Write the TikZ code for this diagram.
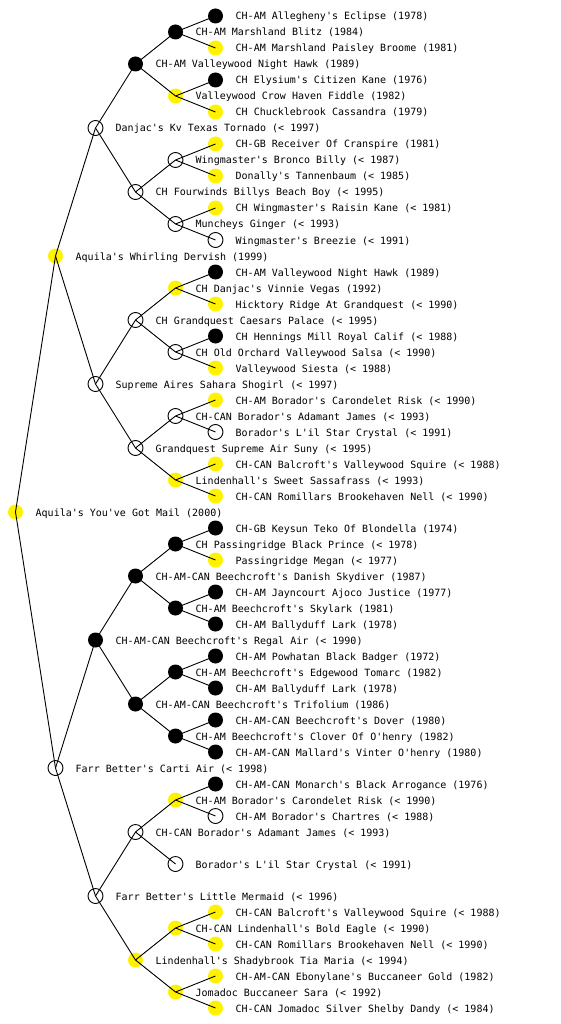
\documentclass[tikz,border=0pt]{standalone}
\usepackage{fontspec}
\setmonofont{DejaVu Sans Mono}
\begin{document}
\begin{tikzpicture}[x=1pt,y=-1pt,
  dot/.style={circle,inner sep=0pt,minimum size=15pt},
  blk/.style={dot,fill=black},
  yel/.style={dot,fill=yellow},
  wht/.style={dot,draw=black,fill=white,line width=0.9pt},
  lbl/.style={anchor=base west,inner sep=0pt,font=\ttfamily\fontsize{10}{12}\selectfont},
  edge/.style={draw=black,line width=0.9pt}]
\useasboundingbox (0,0) rectangle (560,1024);
% level x: 15.5 55.5 95.5 135.5 175.5 215.5 ; y = 16+16r
\node[blk] (n0) at (215.5,16) {};
\node[blk] (n1) at (175.5,32) {};
\node[yel] (n2) at (215.5,48) {};
\node[blk] (n3) at (135.5,64) {};
\node[blk] (n4) at (215.5,80) {};
\node[yel] (n5) at (175.5,96) {};
\node[yel] (n6) at (215.5,112) {};
\node[wht] (n7) at (95.5,128) {};
\node[yel] (n8) at (215.5,144) {};
\node[wht] (n9) at (175.5,160) {};
\node[yel] (n10) at (215.5,176) {};
\node[wht] (n11) at (135.5,192) {};
\node[yel] (n12) at (215.5,208) {};
\node[wht] (n13) at (175.5,224) {};
\node[wht] (n14) at (215.5,240) {};
\node[yel] (n15) at (55.5,256) {};
\node[blk] (n16) at (215.5,272) {};
\node[yel] (n17) at (175.5,288) {};
\node[yel] (n18) at (215.5,304) {};
\node[wht] (n19) at (135.5,320) {};
\node[blk] (n20) at (215.5,336) {};
\node[wht] (n21) at (175.5,352) {};
\node[yel] (n22) at (215.5,368) {};
\node[wht] (n23) at (95.5,384) {};
\node[yel] (n24) at (215.5,400) {};
\node[wht] (n25) at (175.5,416) {};
\node[wht] (n26) at (215.5,432) {};
\node[wht] (n27) at (135.5,448) {};
\node[yel] (n28) at (215.5,464) {};
\node[yel] (n29) at (175.5,480) {};
\node[yel] (n30) at (215.5,496) {};
\node[yel] (n31) at (15.5,512) {};
\node[blk] (n32) at (215.5,528) {};
\node[blk] (n33) at (175.5,544) {};
\node[yel] (n34) at (215.5,560) {};
\node[blk] (n35) at (135.5,576) {};
\node[blk] (n36) at (215.5,592) {};
\node[blk] (n37) at (175.5,608) {};
\node[blk] (n38) at (215.5,624) {};
\node[blk] (n39) at (95.5,640) {};
\node[blk] (n40) at (215.5,656) {};
\node[blk] (n41) at (175.5,672) {};
\node[blk] (n42) at (215.5,688) {};
\node[blk] (n43) at (135.5,704) {};
\node[blk] (n44) at (215.5,720) {};
\node[blk] (n45) at (175.5,736) {};
\node[blk] (n46) at (215.5,752) {};
\node[wht] (n47) at (55.5,768) {};
\node[blk] (n48) at (215.5,784) {};
\node[yel] (n49) at (175.5,800) {};
\node[wht] (n50) at (215.5,816) {};
\node[wht] (n51) at (135.5,832) {};
\node[wht] (n53) at (175.5,864) {};
\node[wht] (n55) at (95.5,896) {};
\node[yel] (n56) at (215.5,912) {};
\node[yel] (n57) at (175.5,928) {};
\node[yel] (n58) at (215.5,944) {};
\node[yel] (n59) at (135.5,960) {};
\node[yel] (n60) at (215.5,976) {};
\node[yel] (n61) at (175.5,992) {};
\node[yel] (n62) at (215.5,1008) {};
% edges
\foreach \p/\c in {31/15,31/47,15/7,15/23,7/3,7/11,3/1,3/5,1/0,1/2,5/4,5/6,
  11/9,11/13,9/8,9/10,13/12,13/14,23/19,23/27,19/17,19/21,17/16,17/18,21/20,21/22,
  27/25,27/29,25/24,25/26,29/28,29/30,47/39,47/55,39/35,39/43,35/33,35/37,33/32,33/34,
  37/36,37/38,43/41,43/45,41/40,41/42,45/44,45/46,55/51,55/59,51/49,51/53,49/48,49/50,
  59/57,59/61,57/56,57/58,61/60,61/62}
  \draw[edge] (n\p.center) -- (n\c.center);
% labels
\node[lbl] (t0) at (235.5,20) {CH-AM Allegheny's Eclipse (1978)};
\node[lbl] (t1) at (195.5,36) {CH-AM Marshland Blitz (1984)};
\node[lbl] (t2) at (235.5,52) {CH-AM Marshland Paisley Broome (1981)};
\node[lbl] (t3) at (155.5,68) {CH-AM Valleywood Night Hawk (1989)};
\node[lbl] (t4) at (235.5,84) {CH Elysium's Citizen Kane (1976)};
\node[lbl] (t5) at (195.5,100) {Valleywood Crow Haven Fiddle (1982)};
\node[lbl] (t6) at (235.5,116) {CH Chucklebrook Cassandra (1979)};
\node[lbl] (t7) at (115.5,132) {Danjac's Kv Texas Tornado (< 1997)};
\node[lbl] (t8) at (235.5,148) {CH-GB Receiver Of Cranspire (1981)};
\node[lbl] (t9) at (195.5,164) {Wingmaster's Bronco Billy (< 1987)};
\node[lbl] (t10) at (235.5,180) {Donally's Tannenbaum (< 1985)};
\node[lbl] (t11) at (155.5,196) {CH Fourwinds Billys Beach Boy (< 1995)};
\node[lbl] (t12) at (235.5,212) {CH Wingmaster's Raisin Kane (< 1981)};
\node[lbl] (t13) at (195.5,228) {Muncheys Ginger (< 1993)};
\node[lbl] (t14) at (235.5,244) {Wingmaster's Breezie (< 1991)};
\node[lbl] (t15) at (75.5,260) {Aquila's Whirling Dervish (1999)};
\node[lbl] (t16) at (235.5,276) {CH-AM Valleywood Night Hawk (1989)};
\node[lbl] (t17) at (195.5,292) {CH Danjac's Vinnie Vegas (1992)};
\node[lbl] (t18) at (235.5,308) {Hicktory Ridge At Grandquest (< 1990)};
\node[lbl] (t19) at (155.5,324) {CH Grandquest Caesars Palace (< 1995)};
\node[lbl] (t20) at (235.5,340) {CH Hennings Mill Royal Calif (< 1988)};
\node[lbl] (t21) at (195.5,356) {CH Old Orchard Valleywood Salsa (< 1990)};
\node[lbl] (t22) at (235.5,372) {Valleywood Siesta (< 1988)};
\node[lbl] (t23) at (115.5,388) {Supreme Aires Sahara Shogirl (< 1997)};
\node[lbl] (t24) at (235.5,404) {CH-AM Borador's Carondelet Risk (< 1990)};
\node[lbl] (t25) at (195.5,420) {CH-CAN Borador's Adamant James (< 1993)};
\node[lbl] (t26) at (235.5,436) {Borador's L'il Star Crystal (< 1991)};
\node[lbl] (t27) at (155.5,452) {Grandquest Supreme Air Suny (< 1995)};
\node[lbl] (t28) at (235.5,468) {CH-CAN Balcroft's Valleywood Squire (< 1988)};
\node[lbl] (t29) at (195.5,484) {Lindenhall's Sweet Sassafrass (< 1993)};
\node[lbl] (t30) at (235.5,500) {CH-CAN Romillars Brookehaven Nell (< 1990)};
\node[lbl] (t31) at (35.5,516) {Aquila's You've Got Mail (2000)};
\node[lbl] (t32) at (235.5,532) {CH-GB Keysun Teko Of Blondella (1974)};
\node[lbl] (t33) at (195.5,548) {CH Passingridge Black Prince (< 1978)};
\node[lbl] (t34) at (235.5,564) {Passingridge Megan (< 1977)};
\node[lbl] (t35) at (155.5,580) {CH-AM-CAN Beechcroft's Danish Skydiver (1987)};
\node[lbl] (t36) at (235.5,596) {CH-AM Jayncourt Ajoco Justice (1977)};
\node[lbl] (t37) at (195.5,612) {CH-AM Beechcroft's Skylark (1981)};
\node[lbl] (t38) at (235.5,628) {CH-AM Ballyduff Lark (1978)};
\node[lbl] (t39) at (115.5,644) {CH-AM-CAN Beechcroft's Regal Air (< 1990)};
\node[lbl] (t40) at (235.5,660) {CH-AM Powhatan Black Badger (1972)};
\node[lbl] (t41) at (195.5,676) {CH-AM Beechcroft's Edgewood Tomarc (1982)};
\node[lbl] (t42) at (235.5,692) {CH-AM Ballyduff Lark (1978)};
\node[lbl] (t43) at (155.5,708) {CH-AM-CAN Beechcroft's Trifolium (1986)};
\node[lbl] (t44) at (235.5,724) {CH-AM-CAN Beechcroft's Dover (1980)};
\node[lbl] (t45) at (195.5,740) {CH-AM Beechcroft's Clover Of O'henry (1982)};
\node[lbl] (t46) at (235.5,756) {CH-AM-CAN Mallard's Vinter O'henry (1980)};
\node[lbl] (t47) at (75.5,772) {Farr Better's Carti Air (< 1998)};
\node[lbl] (t48) at (235.5,788) {CH-AM-CAN Monarch's Black Arrogance (1976)};
\node[lbl] (t49) at (195.5,804) {CH-AM Borador's Carondelet Risk (< 1990)};
\node[lbl] (t50) at (235.5,820) {CH-AM Borador's Chartres (< 1988)};
\node[lbl] (t51) at (155.5,836) {CH-CAN Borador's Adamant James (< 1993)};
\node[lbl] (t53) at (195.5,868) {Borador's L'il Star Crystal (< 1991)};
\node[lbl] (t55) at (115.5,900) {Farr Better's Little Mermaid (< 1996)};
\node[lbl] (t56) at (235.5,916) {CH-CAN Balcroft's Valleywood Squire (< 1988)};
\node[lbl] (t57) at (195.5,932) {CH-CAN Lindenhall's Bold Eagle (< 1990)};
\node[lbl] (t58) at (235.5,948) {CH-CAN Romillars Brookehaven Nell (< 1990)};
\node[lbl] (t59) at (155.5,964) {Lindenhall's Shadybrook Tia Maria (< 1994)};
\node[lbl] (t60) at (235.5,980) {CH-AM-CAN Ebonylane's Buccaneer Gold (1982)};
\node[lbl] (t61) at (195.5,996) {Jomadoc Buccaneer Sara (< 1992)};
\node[lbl] (t62) at (235.5,1012) {CH-CAN Jomadoc Silver Shelby Dandy (< 1984)};
\end{tikzpicture}
\end{document}
